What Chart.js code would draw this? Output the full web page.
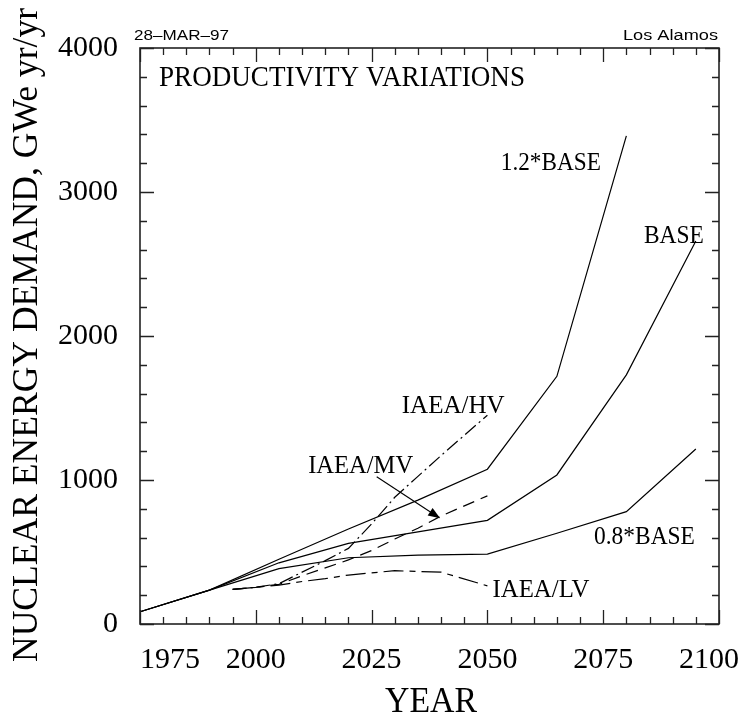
<!DOCTYPE html>
<html>
<head>
<meta charset="utf-8">
<script src="https://cdn.jsdelivr.net/npm/chart.js@4.4.1/dist/chart.umd.min.js"></script>
<style>
  html, body { margin: 0; padding: 0; background: #fff; }
  canvas { display: block; }
</style>
</head>
<body>
<canvas id="myChart" width="749" height="723"></canvas>
<script>
// model runs, every 15 years
const modelYears = [1975, 1990, 2005, 2020, 2035, 2050, 2065, 2080, 2095];
const base12 = [85, 235, 450, 660, 860, 1075, 1720, 3390];
const base = [85, 235, 425, 560, 640, 720, 1035, 1730, 2660];
const base08 = [85, 235, 385, 460, 478, 485, 630, 780, 1215];

// IAEA scenarios
const iaeaYears = [1995, 2000, 2005, 2010, 2015, 2020, 2025, 2030, 2035, 2040, 2050];
const iaeaHV = [240, 255, 280, 360, 440, 525, 695, 880, 1025, 1170, 1450];
const iaeaMV = [240, 255, 275, 335, 390, 445, 510, 590, 665, 750, 890];
const iaeaLV = [240, 255, 270, 295, 315, 340, 355, 370, 365, 360, 265];

const xTicks = [1975, 2000, 2025, 2050, 2075, 2100];
const yTicks = [0, 1000, 2000, 3000, 4000];

const serif = '"Liberation Serif", "DejaVu Serif", serif';
const sans = '"Liberation Sans", "DejaVu Sans", sans-serif';

// curve labels: text, year, value (left edge / baseline), width in px
const notes = [
    ['1.2*BASE', 2052.9, 3150, 100],
    ['BASE', 2083.8, 2645, 60],
    ['IAEA/HV', 2031.5, 1465, 103],
    ['IAEA/MV', 2011.3, 1050, 105],
    ['0.8*BASE', 2073.0, 556, 101],
    ['IAEA/LV', 2051.1, 188, 97]
];

const pts = (xs, ys) => ys.map((v, i) => ({x: xs[i], y: v}));

function fitText(ctx, text, x, y, w, rot) {
    const s = w / ctx.measureText(text).width;
    ctx.save();
    ctx.translate(x, y);
    if (rot) ctx.rotate(rot);
    ctx.scale(s, 1);
    ctx.textAlign = 'left';
    ctx.fillText(text, 0, 0);
    ctx.restore();
}

const frame = {
    id: 'frame',
    afterDraw(chart) {
        const ctx = chart.ctx;
        const a = chart.chartArea;
        const x = chart.scales.x;
        const y = chart.scales.y;
        ctx.save();
        ctx.strokeStyle = '#222';
        ctx.fillStyle = '#000';

        // ticks on all four sides, pointing in
        ctx.lineWidth = 1.3;
        ctx.beginPath();
        for (let v = 1975; v <= 2100; v += 5) {
            const px = Math.round(x.getPixelForValue(v)) + 0.5;
            const len = xTicks.includes(v) ? 14 : 7;
            ctx.moveTo(px, a.bottom); ctx.lineTo(px, a.bottom - len);
            ctx.moveTo(px, a.top); ctx.lineTo(px, a.top + len);
        }
        for (let v = 0; v <= 4000; v += 200) {
            const py = Math.round(y.getPixelForValue(v)) + 0.5;
            const len = yTicks.includes(v) ? 14 : 7;
            ctx.moveTo(a.left, py); ctx.lineTo(a.left + len, py);
            ctx.moveTo(a.right, py); ctx.lineTo(a.right - len, py);
        }
        ctx.stroke();
        ctx.lineWidth = 1.6;
        ctx.strokeRect(a.left, a.top, a.right - a.left, a.bottom - a.top);

        // tick labels
        ctx.font = '30px ' + serif;
        ctx.textBaseline = 'alphabetic';
        ctx.textAlign = 'center';
        xTicks.forEach(v => {
            const w = ctx.measureText(String(v)).width;
            let px = x.getPixelForValue(v);
            px = Math.max(px, a.left + w / 2);
            px = Math.min(px, chart.width - 10 - w / 2);
            ctx.fillText(String(v), px, 668);
        });
        ctx.textAlign = 'right';
        ctx.textBaseline = 'middle';
        yTicks.forEach(v => ctx.fillText(String(v), 118, y.getPixelForValue(v)));

        // axis titles
        ctx.textBaseline = 'alphabetic';
        ctx.font = '36px ' + serif;
        fitText(ctx, 'YEAR', 385, 712, 92);
        ctx.font = '35px ' + serif;
        fitText(ctx, 'NUCLEAR ENERGY DEMAND, GWe yr/yr', 37, 662, 654, -Math.PI / 2);

        // header
        ctx.font = '30px ' + serif;
        fitText(ctx, 'PRODUCTIVITY VARIATIONS', 159, 86, 366);
        ctx.font = '14px ' + sans;
        fitText(ctx, '28\u2013MAR\u201397', 134, 40, 95);
        fitText(ctx, 'Los Alamos', 623, 40, 95);

        // curve labels
        ctx.font = '25px ' + serif;
        notes.forEach(n => fitText(ctx, n[0], x.getPixelForValue(n[1]), y.getPixelForValue(n[2]), n[3]));

        // arrow to IAEA/MV
        const x0 = x.getPixelForValue(2026.1), y0 = y.getPixelForValue(1023);
        const x1 = x.getPixelForValue(2039.8), y1 = y.getPixelForValue(734);
        const ang = Math.atan2(y1 - y0, x1 - x0);
        ctx.lineWidth = 1.1;
        ctx.strokeStyle = '#000';
        ctx.beginPath();
        ctx.moveTo(x0, y0);
        ctx.lineTo(x1 - 8 * Math.cos(ang), y1 - 8 * Math.sin(ang));
        ctx.stroke();
        ctx.beginPath();
        ctx.moveTo(x1, y1);
        ctx.lineTo(x1 - 12 * Math.cos(ang) + 4.5 * Math.sin(ang), y1 - 12 * Math.sin(ang) - 4.5 * Math.cos(ang));
        ctx.lineTo(x1 - 12 * Math.cos(ang) - 4.5 * Math.sin(ang), y1 - 12 * Math.sin(ang) + 4.5 * Math.cos(ang));
        ctx.closePath();
        ctx.fill();
        ctx.restore();
    }
};

const line = (label, xs, ys, dash) => ({
    label: label,
    data: pts(xs, ys),
    borderColor: '#000',
    borderWidth: 1.2,
    borderDash: dash || [],
    pointRadius: 0,
    tension: 0,
    fill: false
});

const ctx = document.getElementById('myChart').getContext('2d');

const myChart = new Chart(ctx, {
    type: 'line',
    data: {
        datasets: [
            line('1.2*BASE', modelYears, base12),
            line('BASE', modelYears, base),
            line('0.8*BASE', modelYears, base08),
            line('IAEA/HV', iaeaYears, iaeaHV, [14, 4, 2, 4]),
            line('IAEA/MV', iaeaYears, iaeaMV, [12, 7]),
            line('IAEA/LV', iaeaYears, iaeaLV, [20, 6, 6, 6])
        ]
    },
    options: {
        responsive: false,
        animation: false,
        layout: { padding: { left: 140, right: 30, top: 48, bottom: 99 } },
        plugins: { legend: { display: false }, tooltip: { enabled: false } },
        scales: {
            x: { type: 'linear', min: 1975, max: 2100, display: false },
            y: { min: 0, max: 4000, display: false }
        }
    },
    plugins: [frame]
});
</script>
</body>
</html>
